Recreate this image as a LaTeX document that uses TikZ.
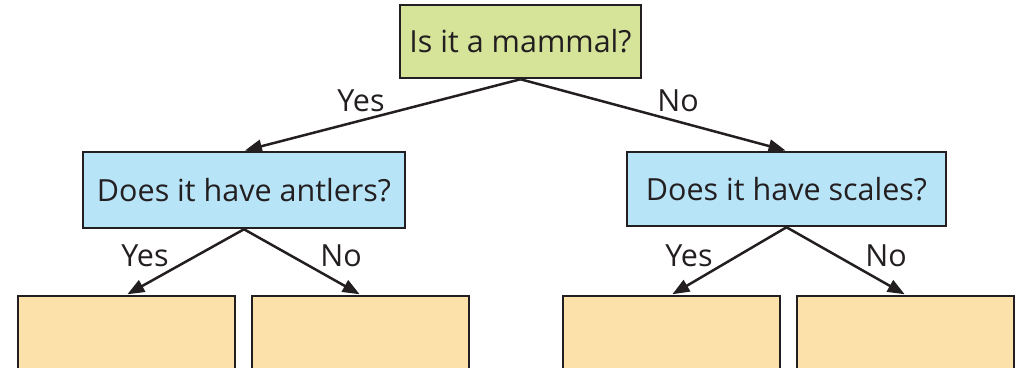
\documentclass[tikz,border=0pt]{standalone}
\usepackage{fontspec}
\setmainfont{Open Sans}
\usetikzlibrary{arrows.meta}
\definecolor{qgreen}{RGB}{214,228,153}
\definecolor{qblue}{RGB}{184,228,248}
\definecolor{qorange}{RGB}{253,225,171}
\definecolor{qline}{RGB}{35,31,32}
\tikzset{
  box/.style={draw=qline, line width=2.5pt, inner sep=0pt, font=\fontsize{30.5}{36}\selectfont, text=qline},
  answer/.style={box, fill=qorange, minimum width=217pt, minimum height=79pt},
  conn/.style={draw=qline, line width=2.5pt, -{Triangle[length=17pt,width=13pt]}, shorten >=1pt},
  lbl/.style={font=\fontsize{30.5}{36}\selectfont, text=qline, inner sep=0pt}
}
\begin{document}
\begin{tikzpicture}[x=1pt,y=1pt]
\useasboundingbox (0,0) rectangle (1016,-367);
\clip (0,0) rectangle (1016,-367);
\node[box, fill=qgreen, minimum width=241pt, minimum height=73pt] (top) at (520.5,-41.5) {Is it a mammal?};
\node[box, fill=qblue, minimum width=322pt, minimum height=76pt] (lb) at (244,-190) {Does it have antlers?};
\node[box, fill=qblue, minimum width=319pt, minimum height=74pt] (rb) at (786.5,-189) {Does it have scales?};
\node[answer] (a1) at (126.5,-335.5) {};
\node[answer] (a2) at (360.5,-335.5) {};
\node[answer] (a3) at (671.5,-335.5) {};
\node[answer] (a4) at (905.5,-335.5) {};
\draw[conn] (top.south) -- (lb.north);
\draw[conn] (top.south) -- (rb.north);
\draw[conn] (lb.south) -- (a1.north);
\draw[conn] (lb.south) -- (a2.north);
\draw[conn] (rb.south) -- (a3.north);
\draw[conn] (rb.south) -- (a4.north);
\node[lbl] (y0) at (361,-101) {Yes};
\node[lbl] (n0) at (678,-101) {No};
\node[lbl] (y1) at (145,-256) {Yes};
\node[lbl] (n1) at (341,-256) {No};
\node[lbl] (y2) at (689,-256) {Yes};
\node[lbl] (n2) at (886,-256) {No};
\end{tikzpicture}
\end{document}
